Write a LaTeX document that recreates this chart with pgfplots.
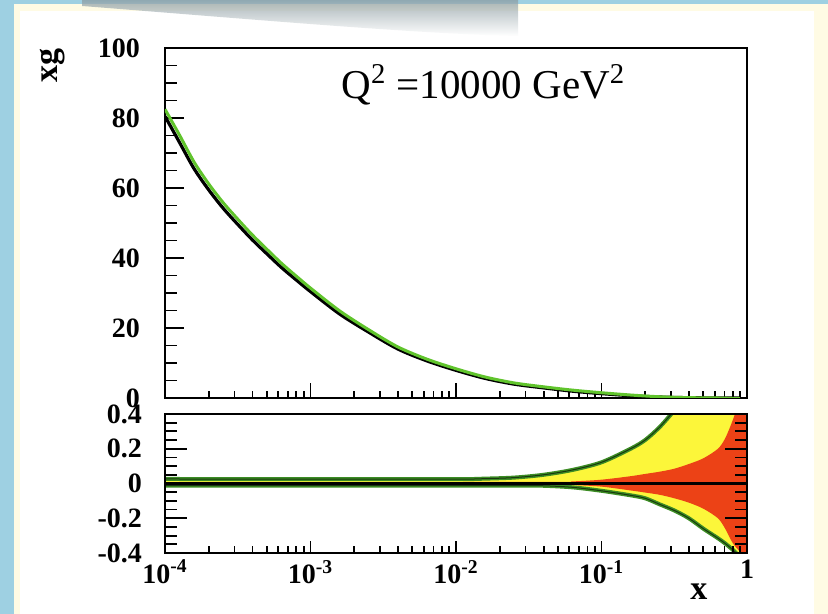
\documentclass[border=0pt]{standalone}
\usepackage{pgfplots}
\pgfplotsset{compat=1.18}
\usepackage{pgfplotstable}
\usepackage{fontspec}
\setmainfont{Liberation Serif}
\definecolor{bgblue}{RGB}{158,208,226}
\definecolor{cream}{RGB}{255,251,228}
\definecolor{shadowgray}{RGB}{140,156,162}
\definecolor{bandyellow}{RGB}{252,246,58}
\definecolor{bandred}{RGB}{236,66,22}
\definecolor{bandgreen}{RGB}{60,140,36}
\definecolor{curvegreen}{RGB}{96,196,44}

\pgfplotstableread{
x        c      g
1e-4     80.5   82.5
1.259e-4 73.0   75.1
1.585e-4 65.5   67.4
1.995e-4 59.5   61.2
2.512e-4 54.2   55.8
3.162e-4 49.6   51.1
3.981e-4 45.2   46.6
5.012e-4 41.2   42.5
6.310e-4 37.3   38.5
7.943e-4 33.8   34.9
1e-3     30.4   31.4
1.585e-3 24.0   24.9
2.512e-3 18.8   19.5
3.981e-3 14.0   14.6
6.310e-3 10.6   11.1
1e-2      7.9    8.35
1.585e-2  5.6    6.0
2.512e-2  3.95   4.3
3.981e-2  2.9    3.2
6.310e-2  1.95   2.25
0.1       1.25   1.5
0.1585    0.65   0.85
0.2512    0.28   0.35
0.3981    0.08   0.1
0.6310    0.01   0.0
0.8913    0.0    -0.2
}\gluon

\pgfplotstableread{
x        yu     yl
1e-4     0.026  -0.012
1e-3     0.025  -0.012
1e-2     0.025  -0.012
1.585e-2 0.028  -0.012
2.512e-2 0.034  -0.012
3.981e-2 0.050  -0.013
6.310e-2 0.078  -0.022
0.1      0.122  -0.042
0.1585   0.200  -0.068
0.1995   0.250  -0.085
0.2512   0.325  -0.120
0.3162   0.420  -0.155
0.3981   0.520  -0.200
0.5012   0.650  -0.260
0.6310   0.800  -0.315
0.7079   0.900  -0.345
0.7943   1.000  -0.380
0.8913   1.100  -0.420
1.0      1.200  -0.460
}\band

\begin{document}
\begin{tikzpicture}
\fill[bgblue] (0,0) rectangle (414pt,307pt);
\begin{scope}[x=0.5pt,y=-0.5pt,shift={(0pt,307pt)}]
  \fill[cream] (14,4) rectangle (828,614);
  \fill[white] (20,11) rectangle (814,614);
  \shade[top color=shadowgray, bottom color=white, opacity=0.75]
    (82,0) -- (518,0) -- (518,36) .. controls (420,34) and (260,20) .. (82,6) -- cycle;
\end{scope}

% ---------- top panel ----------
\begin{axis}[
  scale only axis, width=291pt, height=175pt,
  at={(82.5pt,108pt)}, anchor=south west,
  xmode=log, xmin=1e-4, xmax=1,
  xtick={1e-4,1e-3,1e-2,1e-1,1},
  minor xtick={2e-4,3e-4,4e-4,5e-4,6e-4,7e-4,8e-4,9e-4,
               2e-3,3e-3,4e-3,5e-3,6e-3,7e-3,8e-3,9e-3,
               2e-2,3e-2,4e-2,5e-2,6e-2,7e-2,8e-2,9e-2,
               0.2,0.3,0.4,0.5,0.6,0.7,0.8,0.9},
  xtick pos=left, ytick pos=left,
  tick align=inside,
  tick style={black, line width=0.9pt},
  axis line style={black, line width=1.1pt},
  /pgf/number format/assume math mode=true,
  ticklabel style={font=\bfseries\fontsize{14}{14}\selectfont},
  ymin=0, ymax=100,
  xticklabels={},
  ytick={0,20,40,60,80,100}, minor y tick num=3,
  major tick length=9.5pt, minor tick length=6pt,
  xtick style={/pgfplots/major tick length=7.5pt, /pgfplots/minor tick length=3.5pt},
  yticklabel style={xshift=-9pt},
  ylabel={xg},
  ylabel style={font=\bfseries\fontsize{17}{17}\selectfont,
    at={(axis description cs:-0.194,0.951)}, anchor=center},
]
\addplot[black, line width=1.6pt, smooth] table[x=x, y=c] {\gluon};
\addplot[curvegreen, line width=1.5pt, smooth] table[x=x, y=g] {\gluon};
\node[font=\fontsize{20.5}{20.5}\selectfont] at (rel axis cs:0.547,0.894)
  {Q\textsuperscript{2} =10000 GeV\textsuperscript{2}};
\end{axis}

% ---------- bottom panel ----------
\begin{axis}[
  scale only axis, width=291pt, height=69.5pt,
  at={(82.5pt,30.5pt)}, anchor=south west,
  axis on top,
  xmode=log, xmin=1e-4, xmax=1,
  xtick={1e-4,1e-3,1e-2,1e-1,1},
  minor xtick={2e-4,3e-4,4e-4,5e-4,6e-4,7e-4,8e-4,9e-4,
               2e-3,3e-3,4e-3,5e-3,6e-3,7e-3,8e-3,9e-3,
               2e-2,3e-2,4e-2,5e-2,6e-2,7e-2,8e-2,9e-2,
               0.2,0.3,0.4,0.5,0.6,0.7,0.8,0.9},
  xticklabels={10\textsuperscript{-4},10\textsuperscript{-3},10\textsuperscript{-2},10\textsuperscript{-1},1},
  xtick pos=left, ytick pos=both, yticklabel pos=left,
  tick align=inside,
  tick style={black, line width=0.9pt},
  axis line style={black, line width=1.1pt},
  /pgf/number format/assume math mode=true,
  ticklabel style={font=\bfseries\fontsize{14}{14}\selectfont},
  ymin=-0.4, ymax=0.4,
  ytick={-0.4,-0.2,0,0.2,0.4},
  yticklabels={-0.4,-0.2,0,0.2,0.4},
  minor ytick={-0.35,-0.3,-0.25,-0.15,-0.1,-0.05,0.05,0.1,0.15,0.25,0.3,0.35},
  major tick length=11pt, minor tick length=6pt,
  xtick style={/pgfplots/major tick length=6pt, /pgfplots/minor tick length=3.5pt},
  yticklabel style={xshift=-8pt},
  xlabel={x},
  xlabel style={font=\bfseries\fontsize{17}{17}\selectfont,
    at={(axis description cs:0.9175,0)}, anchor=center, yshift=-19.5pt},
]
\addplot[fill=bandyellow, draw=none, smooth] coordinates {
 (1e-4,0.026) (1e-3,0.025) (1e-2,0.025) (1.585e-2,0.028) (2.512e-2,0.034)
 (3.981e-2,0.050) (6.310e-2,0.078) (0.1,0.122) (0.1585,0.200)
 (0.1995,0.250) (0.2512,0.325) (0.3162,0.420) (0.3981,0.520) (0.5012,0.650)
 (0.6310,0.800) (0.7079,0.900) (0.7943,1.000) (0.8913,1.100) (1.0,1.200)
 (1.0,-0.460) (0.8913,-0.420) (0.7943,-0.380) (0.7079,-0.345) (0.6310,-0.315)
 (0.5012,-0.260) (0.3981,-0.200) (0.3162,-0.155) (0.2512,-0.120) (0.1995,-0.085)
 (0.1585,-0.068) (0.1,-0.042) (6.310e-2,-0.022) (3.981e-2,-0.013)
 (1e-2,-0.012) (1e-4,-0.012)
};
\addplot[fill=bandred, draw=none, smooth] coordinates {
 (1e-4,0.008) (3.981e-2,0.009) (6.310e-2,0.012) (0.1,0.022) (0.1585,0.042)
 (0.1995,0.055) (0.2512,0.068) (0.3162,0.085) (0.3981,0.112)
 (0.5012,0.145) (0.6310,0.200) (0.7079,0.260) (0.7943,0.360) (0.8913,0.480) (1.0,0.600)
 (1.0,-0.420) (0.8913,-0.390) (0.7943,-0.340) (0.7079,-0.260) (0.6310,-0.200)
 (0.5012,-0.145) (0.3981,-0.110) (0.3162,-0.085) (0.2512,-0.065) (0.1995,-0.052)
 (0.1585,-0.040) (0.1,-0.018) (6.310e-2,-0.009) (3.981e-2,-0.007)
 (1e-4,-0.006)
};
\addplot[bandgreen, line width=2pt, smooth] table[x=x, y=yu] {\band};
\addplot[bandgreen, line width=2pt, smooth] table[x=x, y=yl] {\band};
\addplot[black, line width=0.5pt, opacity=0.6, smooth] table[x=x, y=yu] {\band};
\addplot[black, line width=0.5pt, opacity=0.6, smooth] table[x=x, y=yl] {\band};
\addplot[black, line width=1.2pt] coordinates {(1e-4,0) (1,0)};
\end{axis}
\end{tikzpicture}
\end{document}
